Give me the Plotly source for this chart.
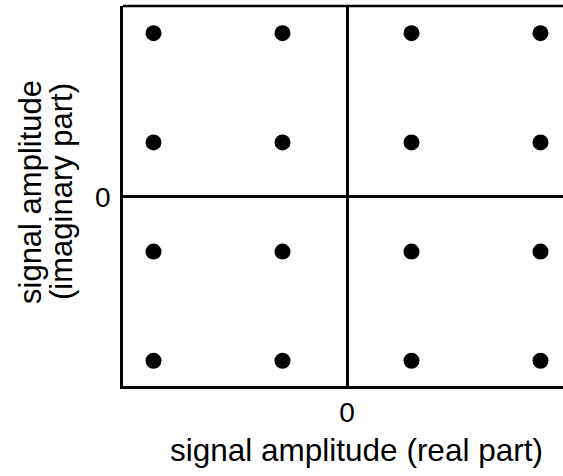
import plotly.graph_objects as go

# 16-QAM constellation levels
in_phase_levels = [-3, -1, 1, 3]
quadrature_levels = [-3, -1, 1, 3]
x_title = "signal amplitude (real part)"
y_title_lines = ["signal amplitude", "(imaginary part)"]
tick_vals = [0]
tick_text = ["0"]

xs, ys = [], []
for q in quadrature_levels:
    for i in in_phase_levels:
        xs.append(i)
        ys.append(q)

FONT = "Liberation Sans, Arial, Helvetica, sans-serif"

fig = go.Figure()
fig.add_trace(go.Scatter(
    x=xs, y=ys, mode="markers",
    marker=dict(size=16, color="black", line=dict(width=0)),
    hoverinfo="skip", showlegend=False,
))

W, H = 563, 476
L, R, T, B = 123, 0, 6, 90
pw, ph = W - L - R, H - T - B

def px_to_paper_x(px):
    return (px - L) / pw

def px_to_paper_y(py):
    return (H - B - py) / ph

fig.update_layout(
    width=W, height=H,
    margin=dict(l=L, r=R, t=T, b=B, pad=0),
    paper_bgcolor="white", plot_bgcolor="white",
    font=dict(family=FONT, color="black"),
    xaxis=dict(
        range=[-3.473, 3.349], showgrid=False,
        zeroline=True, zerolinecolor="black", zerolinewidth=3,
        showline=True, linecolor="black", linewidth=2.5, mirror=False,
        tickvals=tick_vals, ticktext=tick_text, ticks="",
        tickfont=dict(size=28, family=FONT, color="black"),
        ticklabelstandoff=0, fixedrange=True,
    ),
    yaxis=dict(
        range=[-3.462, 3.498], showgrid=False,
        zeroline=True, zerolinecolor="black", zerolinewidth=3,
        showline=True, linecolor="black", linewidth=2.5, mirror=False,
        tickvals=tick_vals, ticktext=tick_text, ticks="",
        tickfont=dict(size=28, family=FONT, color="black"),
        ticklabelstandoff=4, fixedrange=True,
    ),
    shapes=[dict(type="line", xref="paper", yref="paper",
                 x0=0, x1=1, y0=1, y1=1,
                 line=dict(color="black", width=2.5))],
)

fig.add_annotation(
    text=x_title, xref="paper", yref="paper",
    x=px_to_paper_x(356), y=px_to_paper_y(450),
    xanchor="center", yanchor="middle", showarrow=False,
    font=dict(size=31.5, family=FONT, color="black"),
)
for line, px in zip(y_title_lines, [30, 61]):
    fig.add_annotation(
        text=line, xref="paper", yref="paper",
        x=px_to_paper_x(px), y=px_to_paper_y(192),
        xanchor="center", yanchor="middle", showarrow=False,
        textangle=-90,
        font=dict(size=31, family=FONT, color="black"),
    )

fig.write_html("out.html")
